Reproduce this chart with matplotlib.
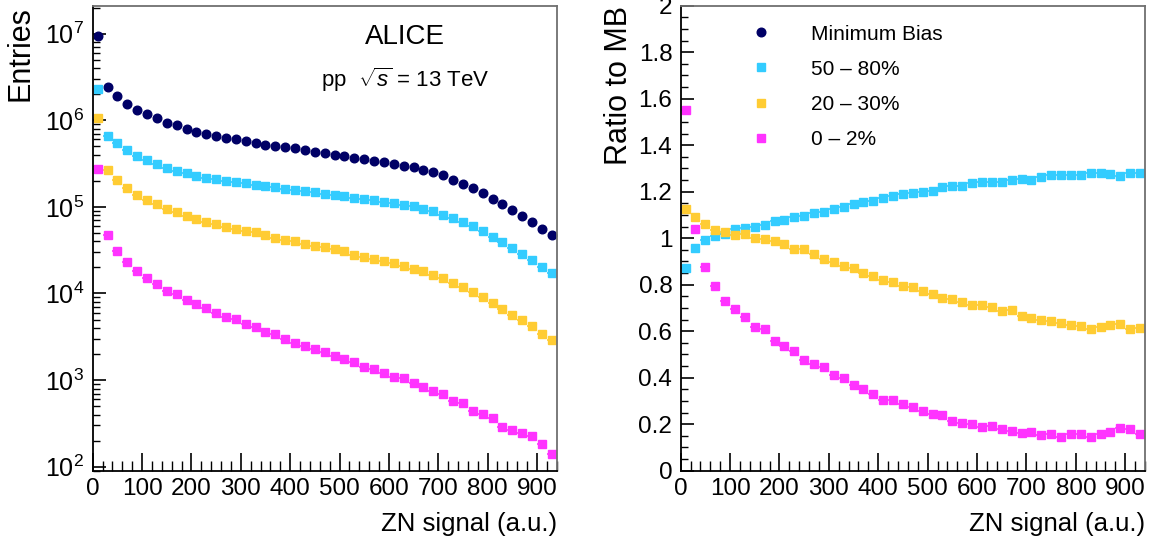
import numpy as np
import matplotlib
matplotlib.use('Agg')
import matplotlib.pyplot as plt
from matplotlib.lines import Line2D
from matplotlib.ticker import MultipleLocator, LogLocator, FuncFormatter, NullFormatter

plt.rcParams['font.family'] = ['Liberation Sans', 'DejaVu Sans']
plt.rcParams['mathtext.fontset'] = 'custom'
plt.rcParams['mathtext.rm'] = 'Liberation Sans'
plt.rcParams['mathtext.it'] = 'Liberation Sans:italic'

# ZN signal bin centres (bin width 20)
zn = np.arange(10, 940, 20)

labels = ['Minimum Bias', '50 – 80%', '20 – 30%', '0 – 2%']
colors = ['#000066', '#33ccff', '#ffcc33', '#ff33ff']

# Entries per bin
mb = [9.3e6, 2.43e6, 1.89e6, 1.56e6, 1.33e6, 1.17e6, 1.05e6, 9.4e5, 8.7e5, 8.0e5,
      7.4e5, 7.0e5, 6.6e5, 6.3e5, 6.0e5, 5.7e5, 5.5e5, 5.2e5, 5.0e5, 4.9e5,
      4.72e5, 4.5e5, 4.34e5, 4.2e5, 4.01e5, 3.87e5, 3.7e5, 3.58e5, 3.42e5, 3.27e5,
      3.13e5, 2.99e5, 2.86e5, 2.69e5, 2.5e5, 2.31e5, 2.06e5, 1.85e5, 1.65e5, 1.45e5,
      1.24e5, 1.09e5, 9.1e4, 7.9e4, 6.7e4, 5.6e4, 4.7e4]
c50_80 = [2.3e6, 6.5e5, 5.4e5, 4.5e5, 3.9e5, 3.45e5, 3.13e5, 2.82e5, 2.6e5, 2.47e5,
          2.3e5, 2.16e5, 2.1e5, 2.0e5, 1.94e5, 1.87e5, 1.81e5, 1.73e5, 1.68e5, 1.62e5,
          1.58e5, 1.53e5, 1.49e5, 1.42e5, 1.36e5, 1.32e5, 1.28e5, 1.23e5, 1.19e5, 1.14e5,
          1.11e5, 1.06e5, 1.01e5, 9.5e4, 8.9e4, 8.1e4, 7.4e4, 6.7e4, 5.96e4, 5.2e4,
          4.5e4, 3.9e4, 3.35e4, 2.88e4, 2.41e4, 2.02e4, 1.72e4]
c20_30 = [1.05e6, 2.64e5, 2.02e5, 1.64e5, 1.37e5, 1.2e5, 1.07e5, 9.46e4, 8.7e4, 7.77e4,
          7.25e4, 6.69e4, 6.34e4, 5.86e4, 5.55e4, 5.26e4, 5.07e4, 4.73e4, 4.4e4, 4.18e4,
          4.0e4, 3.76e4, 3.56e4, 3.44e4, 3.26e4, 3.06e4, 2.78e4, 2.63e4, 2.5e4, 2.37e4,
          2.24e4, 2.09e4, 1.93e4, 1.83e4, 1.64e4, 1.52e4, 1.32e4, 1.19e4, 1.04e4, 9.1e3,
          7.7e3, 6.65e3, 5.67e3, 4.92e3, 4.2e3, 3.42e3, 2.92e3]
c0_2 = [2.74e5, 4.77e4, 3.06e4, 2.31e4, 1.83e4, 1.51e4, 1.28e4, 1.08e4, 9.85e3, 8.4e3,
        7.6e3, 6.78e3, 5.93e3, 5.33e3, 5.06e3, 4.46e3, 4.09e3, 3.64e3, 3.4e3, 2.97e3,
        2.67e3, 2.5e3, 2.28e3, 2.1e3, 1.89e3, 1.74e3, 1.61e3, 1.41e3, 1.34e3, 1.22e3,
        1.08e3, 1.05e3, 921, 828, 745, 687, 580, 541, 437, 410,
        363, 290, 266, 243, 226, 183, 140]

# Ratio to minimum bias
r50_80 = [0.870, 0.959, 0.992, 1.009, 1.018, 1.038, 1.043, 1.050, 1.055, 1.074,
          1.077, 1.090, 1.097, 1.110, 1.114, 1.124, 1.133, 1.146, 1.154, 1.158,
          1.172, 1.181, 1.189, 1.194, 1.199, 1.203, 1.219, 1.225, 1.226, 1.236,
          1.242, 1.242, 1.242, 1.249, 1.255, 1.249, 1.265, 1.272, 1.272, 1.272,
          1.272, 1.282, 1.282, 1.275, 1.269, 1.280, 1.280]
r20_30 = [1.126, 1.093, 1.060, 1.035, 1.027, 1.014, 1.017, 1.000, 0.995, 0.988,
          0.975, 0.955, 0.952, 0.932, 0.909, 0.896, 0.882, 0.870, 0.849, 0.837,
          0.820, 0.810, 0.794, 0.789, 0.772, 0.759, 0.742, 0.738, 0.724, 0.711,
          0.711, 0.703, 0.687, 0.690, 0.667, 0.658, 0.647, 0.643, 0.635, 0.625,
          0.621, 0.611, 0.617, 0.625, 0.631, 0.608, 0.612]
r0_2 = [1.550, 1.038, 0.877, 0.794, 0.731, 0.694, 0.660, 0.619, 0.608, 0.559,
        0.536, 0.514, 0.476, 0.458, 0.445, 0.410, 0.397, 0.369, 0.350, 0.330,
        0.304, 0.304, 0.286, 0.273, 0.255, 0.244, 0.238, 0.212, 0.206, 0.201,
        0.189, 0.194, 0.179, 0.169, 0.161, 0.165, 0.152, 0.158, 0.144, 0.159,
        0.159, 0.144, 0.159, 0.168, 0.185, 0.179, 0.158]

fig = plt.figure(figsize=(11.56, 5.42), dpi=100)
ax1 = fig.add_axes([0.0802, 0.1315, 0.4014, 0.858])
ax2 = fig.add_axes([0.5888, 0.1315, 0.4017, 0.858])


def style_axes(ax):
    ax.set_xlim(0, 940)
    ax.xaxis.set_major_locator(MultipleLocator(100))
    ax.xaxis.set_minor_locator(MultipleLocator(20))
    ax.tick_params(which='both', direction='in', top=False, right=False,
                   labelsize=17.5, colors='black', pad=6)
    ax.tick_params(which='major', length=9, width=1.2)
    ax.tick_params(which='minor', length=5, width=1.0)
    ax.tick_params(axis='x', which='major', length=13, pad=5)
    ax.tick_params(axis='x', which='minor', length=7)
    for s in ['left', 'bottom']:
        ax.spines[s].set_linewidth(1.3)
    for s in ['top', 'right']:
        ax.spines[s].set_color('#707070')
        ax.spines[s].set_linewidth(1.3)


# Left: entries
ax1.plot(zn, mb, 'o', color=colors[0], ms=6.2, ls='none')
for vals, c in zip([c50_80, c20_30, c0_2], colors[1:]):
    ax1.errorbar(zn, vals, xerr=10, fmt='s', color=c, ms=6, elinewidth=1.2,
                 capsize=0, ls='none')
ax1.set_yscale('log')
ax1.set_ylim(90, 2.1e7)
ax1.yaxis.set_major_locator(LogLocator(base=10, numticks=12))
ax1.yaxis.set_minor_locator(LogLocator(base=10, subs=np.arange(2, 10), numticks=12))
ax1.yaxis.set_minor_formatter(NullFormatter())
style_axes(ax1)
ax1.tick_params(axis='y', labelsize=18)
ax1.set_ylabel('Entries', fontsize=22, loc='top')
ax1.yaxis.set_label_coords(-0.124, 1.0)
ax1.set_xlabel('ZN signal (a.u.)', fontsize=18.5, loc='right')
ax1.xaxis.set_label_coords(1.0, -0.088)
ax1.text(0.673, 0.933, 'ALICE', transform=ax1.transAxes, fontsize=20,
         ha='center', va='center')
ax1.text(0.673, 0.84, r'pp  $\sqrt{s}$ = 13 TeV', transform=ax1.transAxes,
         fontsize=16, ha='center', va='center')

# Right: ratio
for vals, c in zip([r50_80, r20_30, r0_2], colors[1:]):
    ax2.errorbar(zn, vals, xerr=10, fmt='s', color=c, ms=6, elinewidth=1.2,
                 capsize=0, ls='none')
ax2.set_ylim(0, 2)
ax2.yaxis.set_major_locator(MultipleLocator(0.2))
ax2.yaxis.set_minor_locator(MultipleLocator(0.05))
ax2.yaxis.set_major_formatter(FuncFormatter(lambda v, p: '%g' % round(v, 2)))
style_axes(ax2)
ax2.set_ylabel('Ratio to MB', fontsize=22, loc='top')
ax2.yaxis.set_label_coords(-0.10, 1.0)
ax2.set_xlabel('ZN signal (a.u.)', fontsize=18.5, loc='right')
ax2.xaxis.set_label_coords(1.0, -0.088)

handles = [Line2D([], [], marker='o', ls='none', color=colors[0], ms=6.2)]
handles += [Line2D([], [], marker='s', ls='none', color=c, ms=6) for c in colors[1:]]
ax2.legend(handles, labels, loc='upper left', bbox_to_anchor=(0.11, 0.977),
           frameon=False, fontsize=15, handlelength=2.0, handletextpad=1.4,
           labelspacing=0.77, borderaxespad=0)

fig.savefig('out.png', dpi=100)
